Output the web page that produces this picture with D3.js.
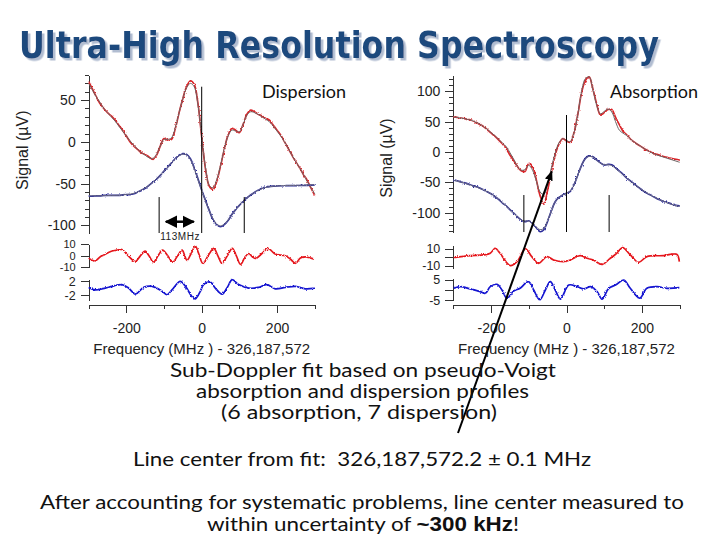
<!DOCTYPE html>
<html>
<head>
<meta charset="utf-8">
<script src="https://cdn.jsdelivr.net/npm/d3@7"></script>
<style>
  body { margin: 0; background: #fff; }
  svg { display: block; }
  .axis text { font-family: "Liberation Sans", Arial, sans-serif; font-size: 14px; fill: #222; }
  .axis.res text { font-size: 12.5px; }
  .axis.tight text { font-size: 11px; }
  .axis path, .axis line { stroke: #333; stroke-width: 1; shape-rendering: crispEdges; }
  .chartlabel { font-family: "Liberation Sans", Arial, sans-serif; fill: #222; }
  .slide { font-family: Lato, "Open Sans", sans-serif; fill: #111; }
</style>
</head>
<body>
<svg id="chart" width="720" height="540"></svg>
<script>
// Frequency grid of the main traces (MHz from 326,187,572)
const freq = d3.range(-300, 301, 10)

// Dispersion panel, main traces (µV)
const dispRed = [
  72, 63, 54, 46, 40, 35, 31, 26, 20, 14,
  7, 0, -5, -9, -13, -15, -18, -21, -16, -5,
  4, 2, 3, 16, 35, 52, 66, 73, 69, 46,
  6, -32, -53, -57, -47, -29, -9, 8, 16, 14,
  11, 21, 33, 38, 36, 33, 31, 28, 26, 20,
  14, 8, 0, -8, -16, -24, -31, -39, -46, -55,
  -64]
const dispRedFit = [
  70, 62, 54, 47, 40, 35, 30, 25, 19, 13,
  7, 1, -4, -9, -13, -16, -19, -20, -15, -5,
  3, 3, 5, 17, 35, 52, 65, 70, 66, 45,
  6, -30, -52, -55, -45, -28, -8, 7, 14, 13,
  12, 21, 32, 36, 35, 33, 30, 27, 24, 19,
  13, 7, 0, -8, -16, -24, -31, -39, -47, -55,
  -62]
const dispBlue = [
  -65, -65, -64.5, -64.5, -64, -64, -64, -64, -64, -63.5,
  -63, -63, -62, -60, -58, -55.5, -52, -48.5, -44.5, -40,
  -35, -30, -25, -20, -16, -14, -15, -20, -31, -44,
  -57.5, -70, -82, -93, -99, -101.5, -99, -94, -87, -81,
  -76, -71, -67, -63.5, -60.5, -58, -55.5, -54, -53.5, -53,
  -52.7, -52.5, -52.5, -52.3, -52.3, -52.3, -52.2, -52, -52, -51.8,
  -51.5]
const dispBlueFit = [
  -64.5, -64.5, -64.5, -64.5, -64.3, -64.2, -64, -64, -63.8, -63.5,
  -63, -62.5, -61.5, -60, -57.5, -55, -52, -48.5, -44.5, -40,
  -35, -30, -25, -20.5, -16.5, -14.5, -15.5, -21, -32, -45,
  -58, -70.5, -82, -92, -98.5, -100.5, -98.5, -93.5, -87, -81,
  -75.5, -71, -67, -63.5, -60.5, -58, -56, -54.5, -53.5, -53,
  -52.7, -52.5, -52.3, -52.2, -52.1, -52, -52, -51.8, -51.6, -51.4,
  -51.2]

// Absorption panel, main traces (µV)
const absRed = [
  58, 57, 56, 55, 53.5, 52, 49, 45.5, 42, 37,
  31.5, 26, 20, 13.5, 6, -5, -14, -24, -31, -32,
  -19, -24, -46, -72, -86, -63, -32, -5, 13, 22,
  18, 16, 32, 62, 98, 118, 124, 104, 79, 61,
  65, 70, 70, 57, 45, 34, 28, 21, 16, 12,
  8, 4, 1, -2, -4, -6, -8, -9.5, -11, -12,
  -13]
const absRedFit = [
  58, 57, 56, 55, 53.5, 52, 49, 46, 42, 37.5,
  32, 27, 21, 15, 9, -1, -12, -24, -30, -29,
  -22, -30, -48, -66, -70, -52, -26, -2, 15, 22,
  19, 17, 32, 62, 100, 121, 124, 103, 77, 63,
  67, 71, 66, 50, 36, 31, 27, 21, 16, 12,
  8, 4, 0.5, -2.5, -5, -7, -9, -11, -13, -15,
  -17]
const absBlue = [
  -46, -47.5, -49.5, -51, -53, -55.5, -57, -59.5, -62.5, -65.5,
  -69, -73.5, -78, -84, -89, -95, -101, -107, -112, -115,
  -113.5, -118, -125, -131.5, -128, -114, -97, -82, -75, -71,
  -68, -65, -54, -38, -22, -10.5, -6.5, -8, -13, -18,
  -21.5, -20.5, -21, -26, -31.5, -37, -43, -48, -53, -58,
  -62.5, -67, -70, -73.5, -77, -79.5, -82, -84, -86, -88,
  -89]
const absBlueFit = [
  -46.5, -48, -49.5, -51.5, -53.5, -55.5, -57.5, -60, -62.5, -65.5,
  -69, -73, -78, -83.5, -89, -95, -101, -107, -112, -114,
  -114, -118, -124, -128, -126, -113, -97, -82, -75, -71,
  -68, -64.5, -54, -38, -22, -11, -7, -8.5, -13.5, -18.5,
  -21, -21, -22.5, -27, -32, -37.5, -43, -48.5, -53.5, -58,
  -62.5, -66.5, -70, -73.5, -76.5, -79.5, -82, -84.5, -86.5, -88.5,
  -90]

// Fit residuals, [frequency, value] read at turning points
const dispRedRes = [[-300, -2], [-283, -4.5], [-270, -1], [-261, 0.5], [-240, 4], [-225, 5], [-212, 5.5],
  [-195, 0], [-176, -5], [-163, 0], [-150, 4], [-140, 0], [-128, -5.5], [-116, 0], [-104, 5], [-90, 0],
  [-77, -5.5], [-64, 0], [-52, 5], [-45, 0], [-39, -4], [-28, 2], [-17, 8.5], [-8, 2], [3, -6.5], [17, 0],
  [32, 6.5], [43, 0], [54, -6.5], [68, 0], [81, 6.5], [92, 0], [103, -7.5], [115, -1], [125, 2], [135, -1],
  [143, -2.3], [160, 2], [176, 6.5], [195, 1.5], [222, 0], [236, -3], [249, -6.5], [262, -2], [275, -1],
  [290, -2], [300, -2.9]]
const dispBlueRes = [[-300, 0.2], [-283, -0.5], [-256, 0], [-238, 0.5], [-212, 1], [-194, 0], [-176, -1.7],
  [-154, 0.2], [-132, 0.5], [-106, -0.8], [-92, -1.9], [-79, -0.5], [-57, 1.9], [-43, 0.5], [-26, -2.4],
  [-17, -3.1], [-4, -1], [5, 1], [23, 1.7], [36, 0], [54, -1.7], [67, 0], [81, 2.4], [98, 1], [125, 0],
  [151, 0.2], [173, 1], [195, -0.2], [222, 0.2], [249, 0.5], [275, -0.2], [300, 0]]
const absRedRes = [[-299, -0.4], [-255, 2], [-220, 2.8], [-202, 4.8], [-189, 10.8], [-176, 4.8], [-149, -10],
  [-131, -5.2], [-109, 10], [-92, 0.8], [-74, -7.2], [-52, 0.8], [-34, -3.2], [-8, -5.2], [10, -3.2],
  [36, 2], [54, -1.2], [71, -3.2], [94, -8.4], [116, -1.2], [133, 4.8], [149, 11.6], [169, 2.8], [191, -6],
  [213, 0.8], [257, 2], [292, 3.6], [299, -5.2]]
const absBlueRes = [[-299, 0.8], [-281, 1.6], [-255, 0.5], [-229, -0.8], [-215, -1.6], [-202, 1.6], [-184, 2.7],
  [-171, 0], [-158, -4], [-140, -0.5], [-123, 0.8], [-101, 4], [-87, 0], [-71, -4.8], [-56, 0], [-43, 4],
  [-30, 0], [-16, -4.4], [6, 2.4], [28, 1.6], [46, 0.5], [64, 1.6], [81, -0.8], [94, -4.4], [112, 0.8],
  [130, 2.4], [152, 4.8], [169, 0.8], [194, -4], [213, 0.8], [240, 1.6], [266, 0.8], [299, 1.1]]

// Component markers: [frequency, top of line (µV)]
const dispMarkers = [[-113, -66], [0, 66], [113, -66]]
const absMarkers = [[-113, -71], [0, 61], [113, -71]]

// Tick values
const xMajor = [-200, 0, 200]
const xMinor = [-300, -100, 100, 300]

const svg = d3.select('#chart')
svg.append('rect').attr('width', 720).attr('height', 540).attr('fill', '#fff')

const defs = svg.append('defs')
// Slight jitter filter so the traces look like measured data
const noise = defs.append('filter').attr('id', 'noisy').attr('x', '-5%').attr('y', '-20%').attr('width', '110%').attr('height', '140%')
noise.append('feTurbulence').attr('type', 'fractalNoise').attr('baseFrequency', '0.9 0.6').attr('numOctaves', 2).attr('seed', 3).attr('result', 'n')
noise.append('feDisplacementMap').attr('in', 'SourceGraphic').attr('in2', 'n').attr('scale', 2.6)
  .attr('xChannelSelector', 'R').attr('yChannelSelector', 'G')
// Soft shadow behind the title
const shadow = defs.append('filter').attr('id', 'shadow').attr('x', '-2%').attr('y', '-20%').attr('width', '104%').attr('height', '150%')
shadow.append('feDropShadow').attr('dx', 2.5).attr('dy', 2.5).attr('stdDeviation', 0.6)
  .attr('flood-color', '#a9b6cc').attr('flood-opacity', 0.9)
defs.append('marker').attr('id', 'head').attr('viewBox', '0 0 10 10').attr('refX', 9).attr('refY', 5)
  .attr('markerWidth', 5).attr('markerHeight', 5).attr('orient', 'auto-start-reverse')
  .append('path').attr('d', 'M0,0L10,5L0,10z').attr('fill', '#000')
defs.append('marker').attr('id', 'bighead').attr('viewBox', '0 0 10 10').attr('refX', 9).attr('refY', 5)
  .attr('markerWidth', 5).attr('markerHeight', 5).attr('orient', 'auto')
  .append('path').attr('d', 'M0,1L10,5L0,9z').attr('fill', '#000')

// Title
svg.append('text')
  .attr('x', 19).attr('y', 58)
  .attr('textLength', 640).attr('lengthAdjust', 'spacingAndGlyphs')
  .style('font-family', '"DejaVu Sans Condensed", "DejaVu Sans", sans-serif')
  .style('font-stretch', 'condensed')
  .style('font-weight', 'bold')
  .style('font-size', '38px')
  .attr('fill', '#1f497d')
  .attr('filter', 'url(#shadow)')
  .text('Ultra-High Resolution Spectroscopy')

const left = {
  left: 88.7, right: 314.7, xAxisY: 305, label: 'Dispersion', labelX: 262,
  main: { domain: [-109, 80], range: [233, 75], labeled: [50, 0, -50, -100], extra: [] },
  red: { domain: [-10, 10], range: [267.3, 244.3], labeled: [10, 0, -10], extra: [], cls: 'axis tight' },
  blue: { domain: [-3.4, 2.6], range: [300, 279], labeled: [2, -2], extra: [], cls: 'axis res' },
  traces: [dispRed, dispRedFit, dispBlue, dispBlueFit], res: [dispRedRes, dispBlueRes], markers: dispMarkers
}
left.main.minor = d3.range(-100, 81, 10).filter(d => d % 50 !== 0)

const right = {
  left: 453.3, right: 679.7, xAxisY: 305, label: 'Absorption', labelX: 610,
  main: { domain: [-132, 127], range: [232, 75], labeled: [100, 50, 0, -50, -100], extra: [] },
  red: { domain: [-12.8, 14.7], range: [268, 245], labeled: [10, -10], extra: [0], cls: 'axis res' },
  blue: { domain: [-5.2, 5.65], range: [300.7, 278.3], labeled: [5, -5], extra: [0], cls: 'axis res' },
  traces: [absRed, absRedFit, absBlue, absBlueFit], res: [absRedRes, absBlueRes], markers: absMarkers
}
right.main.minor = d3.range(-130, 121, 10).filter(d => d % 50 !== 0)

function addYAxis (x0, scale, cfg) {
  const g = svg.append('g').attr('class', cfg.cls || 'axis').attr('transform', `translate(${x0},0)`)
  g.call(d3.axisLeft(scale).tickValues(cfg.labeled).tickSize(8).tickSizeOuter(0).tickPadding(5).tickFormat(d => String(d)))
  if (cfg.extra.length) {
    g.append('g').call(d3.axisLeft(scale).tickValues(cfg.extra).tickSize(8).tickFormat(''))
      .select('.domain').remove()
  }
  if (cfg.minor && cfg.minor.length) {
    g.append('g').call(d3.axisLeft(scale).tickValues(cfg.minor).tickSize(4).tickFormat(''))
      .select('.domain').remove()
  }
}

function drawPanel (p) {
  const x = d3.scaleLinear().domain([-300, 300]).range([p.left, p.right])
  const yMain = d3.scaleLinear().domain(p.main.domain).range(p.main.range)
  const yRed = d3.scaleLinear().domain(p.red.domain).range(p.red.range)
  const yBlue = d3.scaleLinear().domain(p.blue.domain).range(p.blue.range)

  addYAxis(p.left, yMain, p.main)
  addYAxis(p.left, yRed, p.red)
  addYAxis(p.left, yBlue, p.blue)

  // x axis: long ticks every 200, short every 100
  const gx = svg.append('g').attr('class', 'axis').attr('transform', `translate(0,${p.xAxisY})`)
  gx.call(d3.axisBottom(x).tickValues(xMajor).tickSize(8).tickSizeOuter(0).tickPadding(10).tickFormat(d => String(d)))
  gx.append('g').call(d3.axisBottom(x).tickValues(xMinor).tickSize(4).tickFormat(''))
    .select('.domain').remove()

  svg.append('text').attr('class', 'chartlabel')
    .attr('x', (p.left + p.right) / 2).attr('y', 354)
    .attr('text-anchor', 'middle').style('font-size', '15px')
    .text('Frequency (MHz ) - 326,187,572')

  svg.append('text').attr('class', 'chartlabel')
    .attr('transform', `translate(${p.left - 61},${yMain(-10)}) rotate(-90)`)
    .attr('text-anchor', 'middle').style('font-size', '16px')
    .text('Signal (µV)')

  const lineMain = d3.line().x((d, i) => x(freq[i])).y(d => yMain(d)).curve(d3.curveCatmullRom)
  const [red, redFit, blue, blueFit] = p.traces

  svg.append('path').attr('d', lineMain(red)).attr('fill', 'none')
    .attr('stroke', '#d9262b').attr('stroke-width', 1.7).attr('filter', 'url(#noisy)')
  svg.append('path').attr('d', lineMain(redFit)).attr('fill', 'none')
    .attr('stroke', '#6e6464').attr('stroke-width', 1)
  svg.append('path').attr('d', lineMain(blue)).attr('fill', 'none')
    .attr('stroke', '#2c2c9a').attr('stroke-width', 1.7).attr('filter', 'url(#noisy)')
  svg.append('path').attr('d', lineMain(blueFit)).attr('fill', 'none')
    .attr('stroke', '#6a6a80').attr('stroke-width', 1)

  const lineRed = d3.line().x(d => x(d[0])).y(d => yRed(d[1])).curve(d3.curveCatmullRom)
  const lineBlue = d3.line().x(d => x(d[0])).y(d => yBlue(d[1])).curve(d3.curveCatmullRom)
  svg.append('path').attr('d', lineRed(p.res[0])).attr('fill', 'none')
    .attr('stroke', '#e5191e').attr('stroke-width', 1.7).attr('filter', 'url(#noisy)')
  svg.append('path').attr('d', lineBlue(p.res[1])).attr('fill', 'none')
    .attr('stroke', '#1212d0').attr('stroke-width', 1.7).attr('filter', 'url(#noisy)')

  // Vertical component markers
  p.markers.forEach(([f, top]) => {
    svg.append('line')
      .attr('x1', x(f)).attr('x2', x(f))
      .attr('y1', yMain(top)).attr('y2', yMain(p.main.domain[0]))
      .attr('stroke', '#000').attr('stroke-width', 1)
  })

  svg.append('text').attr('class', 'slide')
    .attr('x', p.labelX).attr('y', 98).style('font-size', '18px')
    .text(p.label)

  return { x, yMain }
}

const L = drawPanel(left)
const R = drawPanel(right)

// 113 MHz spacing arrow in the dispersion panel
svg.append('line')
  .attr('x1', L.x(-95)).attr('x2', L.x(-21))
  .attr('y1', L.yMain(-95.5)).attr('y2', L.yMain(-95.5))
  .attr('stroke', '#000').attr('stroke-width', 2.5)
  .attr('marker-start', 'url(#head)').attr('marker-end', 'url(#head)')
svg.append('text').attr('class', 'chartlabel')
  .attr('x', L.x(-113) + 1).attr('y', 240)
  .style('font-size', '10px').style('letter-spacing', '0.6px')
  .text('113MHz')

// Arrow from the text up to the absorption dip
svg.append('line')
  .attr('x1', 458).attr('y1', 433)
  .attr('x2', R.x(-39)).attr('y2', R.yMain(-32))
  .attr('stroke', '#000').attr('stroke-width', 2)
  .attr('marker-end', 'url(#bighead)')

// Slide text
const slideLines = [
  { text: 'Sub-Doppler fit based on pseudo-Voigt', x: 363, y: 377, w: 386 },
  { text: 'absorption and dispersion profiles', x: 362.5, y: 398, w: 333 },
  { text: '(6 absorption, 7 dispersion)', x: 359, y: 419, w: 276 },
  { text: 'Line center from fit:  326,187,572.2 ± 0.1 MHz', x: 362, y: 466, w: 458 },
  { text: 'After accounting for systematic problems, line center measured to', x: 362, y: 509, w: 644 }
]
slideLines.forEach(l => {
  svg.append('text').attr('class', 'slide')
    .attr('x', l.x).attr('y', l.y).attr('text-anchor', 'middle')
    .attr('textLength', l.w).attr('lengthAdjust', 'spacingAndGlyphs')
    .style('font-size', '19.5px').style('white-space', 'pre')
    .text(l.text)
})
const last = svg.append('text').attr('class', 'slide')
  .attr('x', 363).attr('y', 531).attr('text-anchor', 'middle')
  .attr('textLength', 312).attr('lengthAdjust', 'spacingAndGlyphs')
  .style('font-size', '19.5px')
last.append('tspan').text('within uncertainty of ')
last.append('tspan').style('font-family', '"Liberation Sans", Arial, sans-serif').style('font-weight', 'bold').text('~300 kHz')
last.append('tspan').text('!')
</script>
</body>
</html>
